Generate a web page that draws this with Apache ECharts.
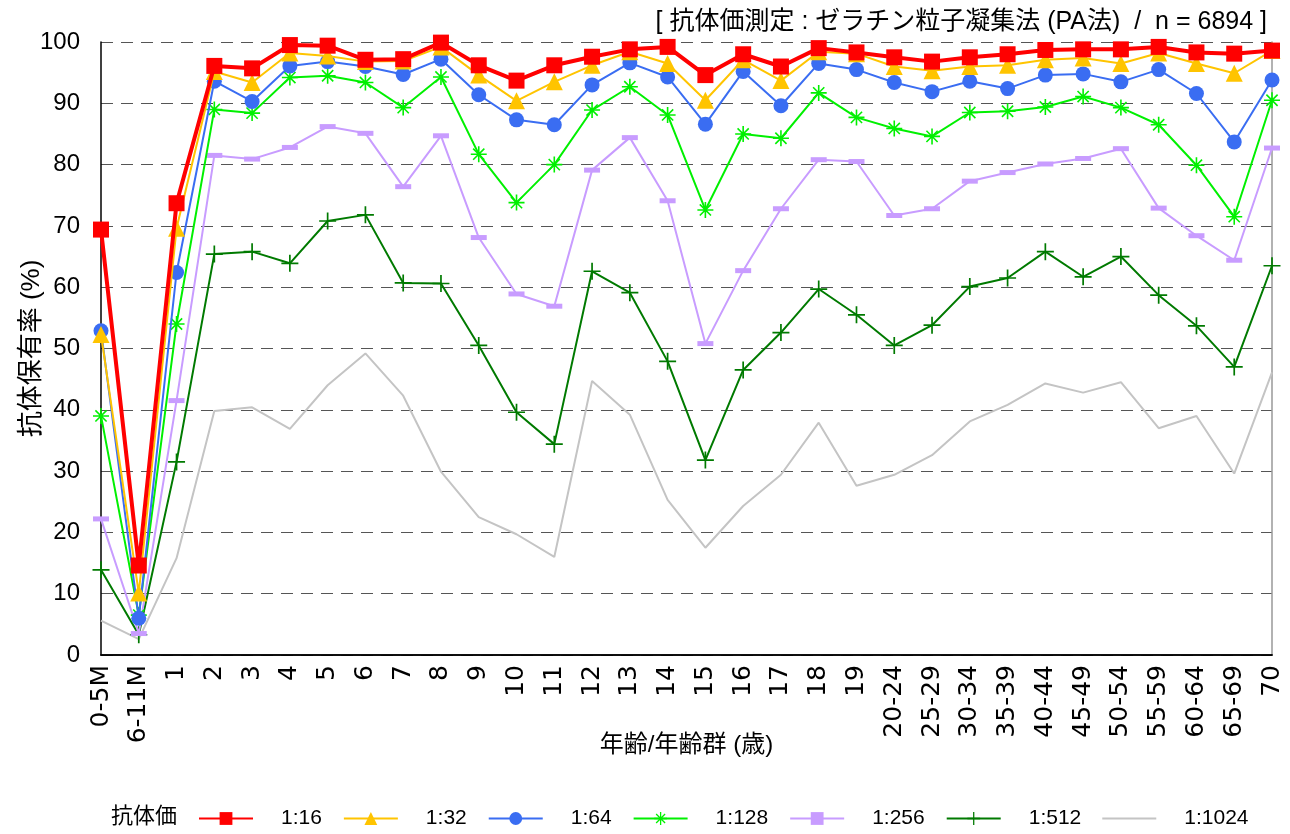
<!DOCTYPE html>
<html>
<head>
    <meta charset="utf-8"/>
    <style>
        html, body { margin: 0; padding: 0; background: #ffffff; }
        #main { width: 1290px; height: 834px; }
    </style>
</head>
<body>
<div id="main"></div>
<script src="https://cdn.jsdelivr.net/npm/echarts@6/dist/echarts.min.js"></script>
<script type="text/javascript">
    // 年齢/年齢群
    var categories = ['0-5M', '6-11M', '1', '2', '3', '4', '5', '6', '7', '8', '9', '10', '11', '12', '13', '14',
        '15', '16', '17', '18', '19', '20-24', '25-29', '30-34', '35-39', '40-44', '45-49', '50-54', '55-59',
        '60-64', '65-69', '70'];
    var yTicks = [0, 10, 20, 30, 40, 50, 60, 70, 80, 90, 100];

    // 抗体保有率 (%) per titer
    var titer16 = [69.4, 14.6, 73.7, 96.1, 95.7, 99.5, 99.4, 97.1, 97.2, 99.9, 96.2, 93.7, 96.2, 97.6, 98.8, 99.2,
        94.6, 98.0, 96.0, 99.0, 98.3, 97.5, 96.8, 97.5, 98.0, 98.7, 98.8, 98.8, 99.2, 98.3, 98.1, 98.6];
    var titer32 = [52.3, 10.1, 69.6, 95.2, 93.4, 98.2, 97.7, 96.8, 96.9, 99.2, 94.6, 90.4, 93.5, 96.2, 98.4, 96.5,
        90.5, 97.1, 93.7, 98.4, 98.1, 96.0, 95.3, 96.0, 96.2, 97.1, 97.4, 96.5, 98.2, 96.5, 94.9, 98.6];
    var titer64 = [52.9, 6.0, 62.4, 93.6, 90.3, 96.1, 96.8, 96.0, 94.7, 97.2, 91.4, 87.3, 86.5, 93.0, 96.6, 94.3,
        86.6, 95.2, 89.6, 96.5, 95.5, 93.4, 91.9, 93.6, 92.4, 94.6, 94.8, 93.5, 95.5, 91.6, 83.7, 93.8];
    var titer128 = [39.0, 6.5, 54.0, 89.0, 88.4, 94.2, 94.5, 93.4, 89.3, 94.3, 81.7, 73.8, 80.0, 88.9, 92.7, 88.1,
        72.6, 85.0, 84.3, 91.7, 87.7, 85.9, 84.6, 88.5, 88.7, 89.4, 91.1, 89.3, 86.5, 79.9, 71.5, 90.5];
    var titer256 = [22.2, 3.5, 41.5, 81.5, 80.9, 82.8, 86.2, 85.1, 76.4, 84.7, 68.1, 58.9, 56.9, 79.1, 84.4, 74.1,
        50.8, 62.7, 72.8, 80.8, 80.5, 71.7, 72.8, 77.3, 78.7, 80.1, 81.0, 82.6, 72.9, 68.4, 64.4, 82.7];
    var titer512 = [13.9, 3.3, 31.5, 65.4, 65.8, 63.9, 70.8, 71.8, 60.7, 60.6, 50.5, 39.6, 34.4, 62.6, 59.1, 47.9,
        31.8, 46.5, 52.6, 59.7, 55.5, 50.5, 53.8, 60.1, 61.5, 65.8, 61.7, 65.0, 58.7, 53.7, 47.0, 63.5];
    var titer1024 = [5.6, 2.6, 15.8, 39.8, 40.4, 36.9, 44.0, 49.2, 42.3, 29.9, 22.5, 19.7, 16.0, 44.7, 39.2, 25.3,
        17.5, 24.3, 29.4, 37.9, 27.6, 29.4, 32.6, 38.1, 40.8, 44.3, 42.8, 44.5, 37.0, 39.0, 29.6, 46.1];

    var FONT = "'Liberation Sans', Arial, 'Noto Sans CJK JP', sans-serif";
    var WIDE = "'DejaVu Sans', 'Noto Sans CJK JP', sans-serif";

    // marker shapes (filled bars)
    var PLUS = 'path://M-1,-10 L1,-10 L1,10 L-1,10 Z M-10,-1 L10,-1 L10,1 L-10,1 Z';
    var STAR = 'path://M-1,-10 L1,-10 L1,10 L-1,10 Z M-10,-1 L10,-1 L10,1 L-10,1 Z ' +
        'M-6.3,-7.7 L7.7,6.3 L6.3,7.7 L-7.7,-6.3 Z M-7.7,6.3 L6.3,-7.7 L7.7,-6.3 L-6.3,7.7 Z';
    var BAR = 'path://M0,0 L60,0 L60,2 L0,2 Z';

    function lineSeries(name, data, color, width, symbol, size, z) {
        return {
            name: name,
            type: 'line',
            data: data,
            z: z,
            symbol: symbol,
            symbolSize: size,
            showSymbol: symbol !== 'none',
            animation: false,
            lineStyle: { color: color, width: width },
            itemStyle: { color: color, borderWidth: 0 },
            emphasis: { disabled: true }
        };
    }

    var myChart = echarts.init(document.getElementById('main'));

    var option = {
        animation: false,
        textStyle: { fontFamily: FONT },
        title: {
            text: '[ 抗体価測定 : ゼラチン粒子凝集法 (PA法)  /  n = 6894 ]',
            right: 18,
            top: 5,
            textStyle: { fontFamily: FONT, fontSize: 25, fontWeight: 'normal', color: '#000' }
        },
        graphic: [{
            type: 'text',
            left: 111,
            top: 806,
            style: { text: '抗体価', font: '22px ' + FONT, fill: '#000' }
        }],
        legend: {
            left: 198,
            top: 808,
            padding: 0,
            itemWidth: 54,
            itemHeight: 16,
            itemGap: 21,
            selectedMode: false,
            data: ['1:16', '1:32', '1:64', '1:128', '1:256', '1:512', {name: '1:1024', icon: BAR}],
            textStyle: { fontFamily: FONT, fontSize: 21, color: '#000', padding: [0, 0, 0, 23] }
        },
        grid: { left: 101, right: 18, top: 42, bottom: 179, show: false, outerBoundsMode: 'none' },
        xAxis: [{
            type: 'category',
            data: categories,
            boundaryGap: false,
            name: '年齢/年齢群 (歳)',
            nameLocation: 'middle',
            nameGap: 78,
            nameMoveOverlap: false,
            nameTextStyle: { fontFamily: FONT, fontSize: 24, color: '#000' },
            axisLine: { lineStyle: { color: '#000', width: 1.5 } },
            axisTick: { show: false },
            axisLabel: { rotate: 90, margin: 10, interval: 0, fontSize: 25, color: '#000', fontFamily: WIDE }
        }, {
            type: 'category',
            data: categories,
            boundaryGap: false,
            position: 'top',
            axisLine: { lineStyle: { color: '#000', width: 1.5 } },
            axisTick: { show: false },
            axisLabel: { show: false }
        }],
        yAxis: [{
            type: 'value',
            min: yTicks[0],
            max: yTicks[yTicks.length - 1],
            interval: 10,
            name: '抗体保有率 (%)',
            nameLocation: 'middle',
            nameGap: 56,
            nameMoveOverlap: false,
            nameTextStyle: { fontFamily: FONT, fontSize: 26, color: '#000' },
            axisLine: { show: true, lineStyle: { color: '#000', width: 1.5 } },
            axisTick: { show: false },
            axisLabel: { fontSize: 24, color: '#000', margin: 21, fontFamily: FONT },
            splitLine: { show: true, lineStyle: { color: '#555', type: [12, 8], width: 1 } }
        }, {
            type: 'value',
            min: yTicks[0],
            max: yTicks[yTicks.length - 1],
            interval: 10,
            position: 'right',
            axisLine: { show: true, lineStyle: { color: '#999', width: 1.5 } },
            axisTick: { show: false },
            axisLabel: { show: false },
            splitLine: { show: false }
        }],
        series: [
            lineSeries('1:16', titer16, '#ff0000', 4, 'rect', 16, 17),
            lineSeries('1:32', titer32, '#ffc400', 2, 'triangle', 17, 16),
            lineSeries('1:64', titer64, '#3a6df2', 2, 'circle', 15, 15),
            lineSeries('1:128', titer128, '#00f000', 2, STAR, 16, 14),
            lineSeries('1:256', titer256, '#c89cff', 2, 'rect', [16, 5], 13),
            lineSeries('1:512', titer512, '#007a00', 2, PLUS, 17, 12),
            lineSeries('1:1024', titer1024, '#c4c4c4', 2, 'none', 0, 11)
        ]
    };

    myChart.setOption(option);
</script>
</body>
</html>
